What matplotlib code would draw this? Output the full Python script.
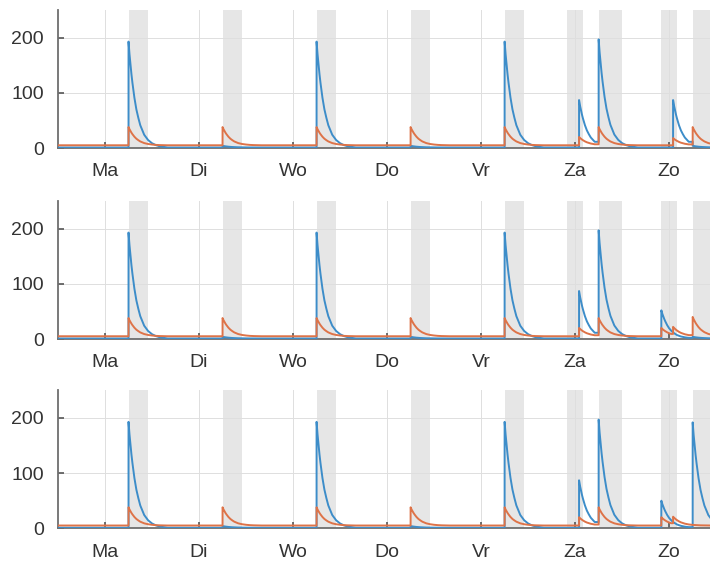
import numpy as np
import matplotlib
matplotlib.use("Agg")
from matplotlib import pyplot as plt

plt.rcParams['font.family'] = ['Liberation Sans', 'DejaVu Sans']

days = ['Ma', 'Di', 'Wo', 'Do', 'Vr', 'Za', 'Zo']
day_ticks = [12, 36, 60, 84, 108, 132, 156]

# shaded periods (hours since monday 00:00)
shade_start = [18, 42, 66, 90, 114, 130, 138, 154, 162]
shade_end = [23, 47, 71, 95, 119, 134, 144, 158, 168]

# decay after a dose, relative to the peak
decay_hours = [0, 0.25, 0.5, 0.75, 1, 1.5, 2, 2.5, 3, 4, 5, 6, 7, 8, 10]
blue_decay = [1.0, 0.88, 0.78, 0.69, 0.61, 0.47, 0.36, 0.28, 0.21, 0.12, 0.07, 0.04, 0.022, 0.011, 0.0]
orange_decay = [1.0, 0.88, 0.78, 0.69, 0.61, 0.47, 0.36, 0.28, 0.21, 0.12, 0.07, 0.04, 0.02, 0.01, 0.0]

blue_base = 1
orange_base = 5

# top panel
blue_t1 = [18, 42, 66, 90, 114, 133, 138, 157, 162]
blue_p1 = [193, 4, 193, 4, 193, 87, 197, 87, 4]
orange_t1 = [18, 42, 66, 90, 114, 133, 138, 157, 162]
orange_p1 = [38, 38, 38, 38, 38, 20, 38, 18, 38]

# middle panel
blue_t2 = [18, 42, 66, 90, 114, 133, 138, 154, 162]
blue_p2 = [193, 4, 193, 4, 193, 87, 197, 52, 4]
orange_t2 = [18, 42, 66, 90, 114, 133, 138, 154, 157, 162]
orange_p2 = [38, 38, 38, 38, 38, 20, 38, 20, 22, 40]

# bottom panel
blue_t3 = [18, 42, 66, 90, 114, 133, 138, 154, 162]
blue_p3 = [193, 4, 193, 4, 193, 87, 197, 50, 192]
orange_t3 = [18, 42, 66, 90, 114, 133, 138, 154, 157]
orange_p3 = [38, 38, 38, 38, 38, 20, 38, 20, 21]


def trace(times, peaks, base, decay):
    t = [0.0]
    y = [base]
    for i in range(len(times)):
        t0 = times[i]
        nxt = times[i + 1] if i + 1 < len(times) else 1e9
        t.append(t0)
        y.append(y[-1])
        for off, f in zip(decay_hours, decay):
            if t0 + off >= nxt:
                break
            t.append(t0 + off)
            y.append(base + (peaks[i] - base) * f)
    t.append(max(t[-1], 180))
    y.append(base)
    return t, y


blue_col = '#3d8dc9'
orange_col = '#de7348'
text_col = '#333333'

fig = plt.figure(figsize=(7.1, 5.65), dpi=100)

panels = [(blue_t1, blue_p1, orange_t1, orange_p1, 0.738),
          (blue_t2, blue_p2, orange_t2, orange_p2, 0.400),
          (blue_t3, blue_p3, orange_t3, orange_p3, 0.065)]

for bt, bp, ot, op, bottom in panels:
    ax = fig.add_axes([0.0817, bottom, 0.927, 0.244])
    for s, e in zip(shade_start, shade_end):
        ax.axvspan(s, e, color='#e6e6e6', lw=0, zorder=0.5)
    x, y = trace(bt, bp, blue_base, blue_decay)
    ax.plot(x, y, color=blue_col, lw=1.4, zorder=3)
    x, y = trace(ot, op, orange_base, orange_decay)
    ax.plot(x, y, color=orange_col, lw=1.4, zorder=4)

    ax.set_xlim(0, 168)
    ax.set_ylim(0, 250)
    ax.set_xticks(day_ticks)
    ax.set_xticklabels(days)
    ax.set_yticks([0, 100, 200])
    ax.grid(True, color='#dedede', lw=0.7, zorder=0)
    ax.set_axisbelow(True)
    ax.tick_params(direction='in', length=4, width=1.2, colors='#555555',
                   labelcolor=text_col, labelsize=14)
    ax.tick_params(axis='x', pad=11)
    ax.tick_params(axis='y', pad=10)
    for side in ['top', 'right']:
        ax.spines[side].set_visible(False)
    for side in ['left', 'bottom']:
        ax.spines[side].set_color('#6e6e6e')
        ax.spines[side].set_linewidth(1.3)
        ax.spines[side].set_zorder(2)

fig.savefig('out.png', dpi=100)
